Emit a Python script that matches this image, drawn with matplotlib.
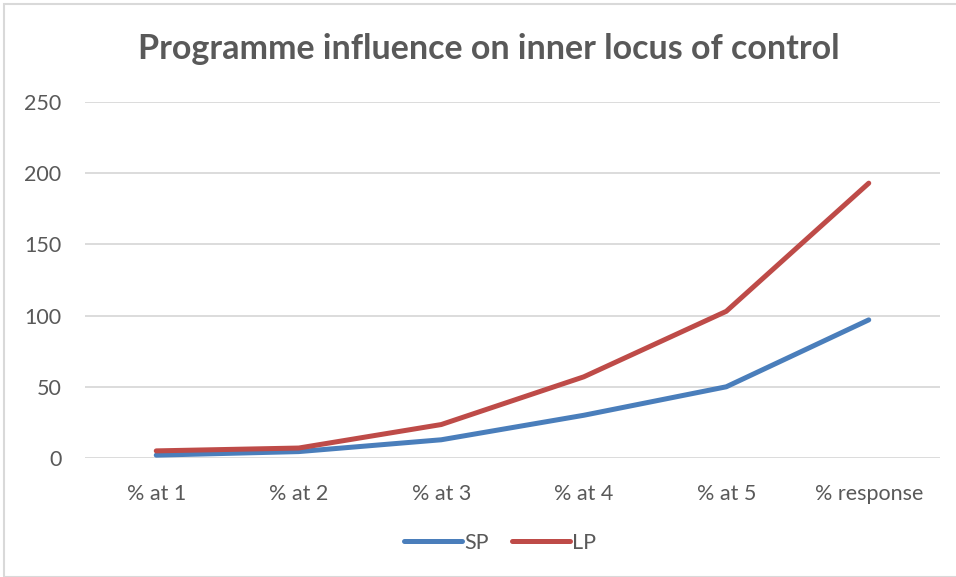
import matplotlib

matplotlib.use("Agg")

import matplotlib.pyplot as plt
from matplotlib.patches import Rectangle

categories = ["% at 1", "% at 2", "% at 3", "% at 4", "% at 5", "% response"]
sp_values = [2, 4.5, 12.8, 30, 50, 97]
lp_values = [5, 7, 23.5, 57, 103, 193]

plt.rcParams["font.family"] = ["Lato", "DejaVu Sans"]

W, H = 956, 577
fig = plt.figure(figsize=(W / 100, H / 100), dpi=100)
fig.patches.append(Rectangle((4 / W, 0), 1, 1 - 4 / H, transform=fig.transFigure,
                             fill=False, edgecolor="#d9d9d9", linewidth=1.5))

ax = fig.add_axes([85 / W, 1 - 458 / H, (940 - 85) / W, (458 - 102) / H])
x = range(len(categories))
ax.plot(x, sp_values, color="#4a7ebb", linewidth=3.6, solid_capstyle="round",
        solid_joinstyle="round", label="SP", zorder=3)
ax.plot(x, lp_values, color="#be4b48", linewidth=3.6, solid_capstyle="round",
        solid_joinstyle="round", label="LP", zorder=3)

ax.set_xlim(-0.5, len(categories) - 0.5)
ax.set_ylim(0, 250)
ax.set_yticks(range(0, 251, 50))
ax.set_xticks(list(x))
ax.set_xticklabels(categories)
ax.grid(axis="y", color="#d9d9d9", linewidth=1.3)
ax.set_axisbelow(True)
for s in ax.spines.values():
    s.set_visible(False)
ax.tick_params(length=0, colors="#595959", labelsize=15.5)
ax.tick_params(axis="y", pad=17)
ax.tick_params(axis="x", pad=19)

fig.text(489 / W, 1 - 49 / H, "Programme influence on inner locus of control",
         ha="center", va="center", fontsize=24.5, fontweight="bold", color="#595959")

fig.legend(loc="center", bbox_to_anchor=(500 / W, 1 - 543 / H), ncol=2, frameon=False,
           fontsize=15.5, labelcolor="#595959", handlelength=2.7, handletextpad=0.1,
           columnspacing=1.1)

fig.savefig("out.png", dpi=100)
